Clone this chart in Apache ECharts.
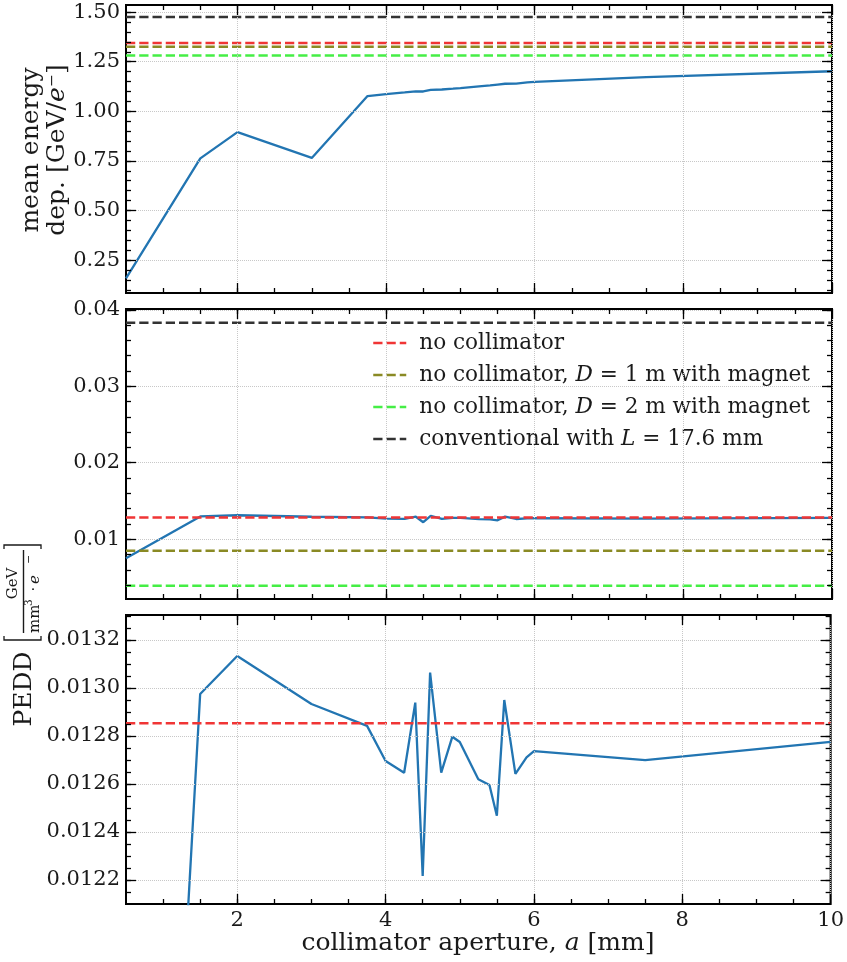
<!DOCTYPE html>
<html><head><meta charset="utf-8">
<script src="https://cdn.jsdelivr.net/npm/echarts@6/dist/echarts.min.js"></script>
<style>html,body{margin:0;padding:0;background:#fff}#c{width:847px;height:962px}</style>
</head><body><div id="c"></div>
<script>
// ---- data ----
const aperture   = [0.5, 1.5, 2, 3, 3.75, 4, 4.25, 4.4, 4.5, 4.6, 4.75, 4.9, 5, 5.25, 5.4, 5.5, 5.6, 5.75, 5.9, 6, 7.5, 10];
const meanEnergy = [0.158, 0.763, 0.895, 0.765, 1.077, 1.087, 1.095, 1.101, 1.100, 1.108, 1.110, 1.114, 1.117, 1.126, 1.131, 1.135, 1.139, 1.140, 1.146, 1.148, 1.172, 1.202];
const pedd       = [0.0075, 0.012975, 0.013133, 0.012933, 0.012842, 0.012696, 0.012647, 0.012939, 0.012217, 0.013064, 0.012647, 0.012797, 0.012775, 0.01262, 0.012596, 0.012468, 0.01295, 0.012642, 0.012711, 0.012737, 0.012699, 0.012775];
const refNames      = ['no collimator', 'no collimator, D = 1 m with magnet', 'no collimator, D = 2 m with magnet', 'conventional with L = 17.6 mm'];
const refMeanEnergy = [1.345, 1.326, 1.281, 1.475];
const refPEDD       = [0.012853, 0.0085, 0.00392, 0.0383];

// axis limits and tick labels
const xLim = [0.5, 10];
const xTicks = [2, 4, 6, 8, 10];
const xTickLabels = ['2', '4', '6', '8', '10'];
const yLim1 = [0.084, 1.536];
const yTicks1 = [0.25, 0.5, 0.75, 1.0, 1.25, 1.5];
const yTickLabels1 = ['0.25', '0.50', '0.75', '1.00', '1.25', '1.50'];
const yLim2 = [0.00218, 0.0401];
const yTicks2 = [0.01, 0.02, 0.03, 0.04];
const yTickLabels2 = ['0.01', '0.02', '0.03', '0.04'];
const yLim3 = [0.0121, 0.013304];
const yTicks3 = [0.0122, 0.0124, 0.0126, 0.0128, 0.0130, 0.0132];
const yTickLabels3 = ['0.0122', '0.0124', '0.0126', '0.0128', '0.0130', '0.0132'];

// ---- styling / layout ----
const FONT = 'DejaVu Serif';
const TXT = '#1a1a1a';
const refColors = ['#f03535', '#8a8a24', '#45ee45', '#333333'];
const blue = '#2275b2';

function range(a, b, step) {
  const out = []; const n = Math.round((b - a) / step);
  for (let i = 0; i <= n; i++) out.push(+(a + i * step).toFixed(7));
  return out;
}
const xMinor = range(1, 9.5, 0.5);
const yMinors = [range(0.10, 1.50, 0.05), range(0.004, 0.040, 0.002), range(0.01215, 0.01330, 0.00005)];
const yLims = [yLim1, yLim2, yLim3];
const yTicksAll = [yTicks1, yTicks2, yTicks3];
const yLabelsAll = [yTickLabels1, yTickLabels2, yTickLabels3];
const grids = [
  {left: 126, top: 5, width: 706, height: 288},
  {left: 126, top: 309, width: 706, height: 290},
  {left: 126, top: 615, width: 706, height: 289}
];

function lookup(ticks, labels, v) {
  let b = 0;
  for (let i = 1; i < ticks.length; i++) if (Math.abs(ticks[i] - v) < Math.abs(ticks[b] - v)) b = i;
  return labels[b];
}
function axis(gi, pos, lim, vals, len, extra) {
  return Object.assign({
    type: 'value', gridIndex: gi, position: pos, min: lim[0], max: lim[1],
    axisLine: {show: false},
    axisTick: {show: true, inside: true, length: len, customValues: vals, lineStyle: {color: '#000', width: 1.3}},
    axisLabel: {show: false},
    splitLine: {show: false},
    minorTick: {show: false}, minorSplitLine: {show: false},
    axisPointer: {show: false}, silent: true, z: 5
  }, extra || {});
}
const gridLine = {show: true, lineStyle: {color: '#c8c8c8', type: 'dotted', width: 1}};
const labelBase = {fontFamily: FONT, fontSize: 21, color: TXT};

const xAxes = [], yAxes = [];
for (let gi = 0; gi < 3; gi++) {
  xAxes.push(axis(gi, 'bottom', xLim, xTicks, 10, {
    axisLabel: Object.assign({show: gi === 2, customValues: xTicks, margin: 6,
      formatter: v => lookup(xTicks, xTickLabels, v)}, labelBase),
    splitLine: gridLine
  }));
  xAxes.push(axis(gi, 'bottom', xLim, xMinor, 5));
  xAxes.push(axis(gi, 'top', xLim, xTicks, 10));
  xAxes.push(axis(gi, 'top', xLim, xMinor, 5));
  const t = yTicksAll[gi], l = yLabelsAll[gi];
  yAxes.push(axis(gi, 'left', yLims[gi], t, 10, {
    axisLabel: Object.assign({show: true, customValues: t, margin: 6,
      formatter: v => lookup(t, l, v)}, labelBase),
    splitLine: gridLine
  }));
  yAxes.push(axis(gi, 'left', yLims[gi], yMinors[gi], 5));
  yAxes.push(axis(gi, 'right', yLims[gi], t, 10));
  yAxes.push(axis(gi, 'right', yLims[gi], yMinors[gi], 5));
}

const series = [];
for (let gi = 0; gi < 3; gi++) {
  const vals = gi === 0 ? meanEnergy : pedd;
  const refs = gi === 0 ? refMeanEnergy : refPEDD;
  series.push({
    type: 'line', name: 'data', xAxisIndex: gi * 4, yAxisIndex: gi * 4,
    data: aperture.map((x, i) => [x, vals[i]]),
    symbol: 'none', clip: true, z: 2, silent: true,
    lineStyle: {color: blue, width: 2.3}, itemStyle: {color: blue}
  });
  refs.forEach((v, k) => {
    series.push({
      type: 'line', name: refNames[k], xAxisIndex: gi * 4, yAxisIndex: gi * 4,
      data: [[xLim[0], v], [xLim[1], v]],
      symbol: 'none', clip: true, z: 3, silent: true,
      lineStyle: {color: refColors[k], width: 2.5, type: [9.25, 4]},
      itemStyle: {color: refColors[k]}
    });
  });
}

const richN = (size) => ({fontFamily: FONT, fontSize: size, fill: TXT});
const richI = (size) => ({fontFamily: FONT, fontSize: size, fontStyle: 'italic', fill: TXT});

const option = {
  animation: false,
  backgroundColor: '#fff',
  grid: grids.map(g => Object.assign({show: true, borderColor: '#000', borderWidth: 2, backgroundColor: 'transparent', containLabel: false}, g)),
  xAxis: xAxes,
  yAxis: yAxes,
  legend: {
    data: refNames, orient: 'vertical', left: 367, top: 326,
    itemWidth: 33, itemHeight: 12, itemGap: 8, selectedMode: false,
    lineStyle: {width: 2.5},
    itemStyle: {opacity: 0, borderWidth: 0},
    formatter: n => n.replace(' D =', ' {i|D} =').replace(' L =', ' {i|L} ='),
    textStyle: {fontFamily: FONT, fontSize: 21.6, color: TXT, lineHeight: 24, padding: [0, 0, 0, 8],
      rich: {i: {fontFamily: FONT, fontSize: 21.6, fontStyle: 'italic', color: TXT, lineHeight: 24}}}
  },
  series: series,
  graphic: [
    {type: 'group', x: 44, y: 150, rotation: Math.PI / 2, silent: true, children: [
      {type: 'text', x: 0, y: -13, style: {text: 'mean energy', fontFamily: FONT, fontSize: 25, fill: TXT, align: 'center', verticalAlign: 'middle'}},
      {type: 'text', x: 0, y: 13, style: {text: '{n|dep. [GeV/}{i|e}{n|⁻]}', rich: {n: richN(25), i: richI(25)}, align: 'center', verticalAlign: 'middle'}}
    ]},
    {type: 'group', x: 24, y: 640, rotation: Math.PI / 2, silent: true, children: [
      {type: 'text', x: -49, y: 0, style: {text: 'PEDD', fontFamily: FONT, fontSize: 25, fill: TXT, align: 'center', verticalAlign: 'middle'}},
      {type: 'polyline', shape: {points: [[4, -20], [0, -20], [0, 17], [4, 17]]}, style: {stroke: TXT, lineWidth: 1.3, fill: null}},
      {type: 'polyline', shape: {points: [[91, -20], [95, -20], [95, 17], [91, 17]]}, style: {stroke: TXT, lineWidth: 1.3, fill: null}},
      {type: 'line', shape: {x1: 7, y1: -0.5, x2: 90, y2: -0.5}, style: {stroke: TXT, lineWidth: 1.4}},
      {type: 'text', x: 56.5, y: -11, style: {text: 'GeV', fontFamily: FONT, fontSize: 15, fill: TXT, align: 'center', verticalAlign: 'middle'}},
      {type: 'text', x: 7, y: 11, style: {text: 'mm', fontFamily: FONT, fontSize: 15, fill: TXT, align: 'left', verticalAlign: 'middle'}},
      {type: 'text', x: 34, y: 5, style: {text: '3', fontFamily: FONT, fontSize: 10.5, fill: TXT, align: 'left', verticalAlign: 'middle'}},
      {type: 'text', x: 51, y: 10, style: {text: '·', fontFamily: FONT, fontSize: 15, fill: TXT, align: 'center', verticalAlign: 'middle'}},
      {type: 'text', x: 56, y: 11, style: {text: 'e', fontFamily: FONT, fontSize: 15, fontStyle: 'italic', fill: TXT, align: 'left', verticalAlign: 'middle'}},
      {type: 'text', x: 76, y: 5, style: {text: '−', fontFamily: FONT, fontSize: 11, fill: TXT, align: 'left', verticalAlign: 'middle'}}
    ]},
    {type: 'text', x: 478, y: 943, silent: true, style: {text: '{n|collimator aperture, }{i|a}{n| [mm]}', rich: {n: richN(25), i: richI(25)}, align: 'center', verticalAlign: 'middle'}}
  ]
};
const chart = echarts.init(document.getElementById('c'), null, {renderer: 'canvas'});
chart.setOption(option);
</script>
</body></html>
